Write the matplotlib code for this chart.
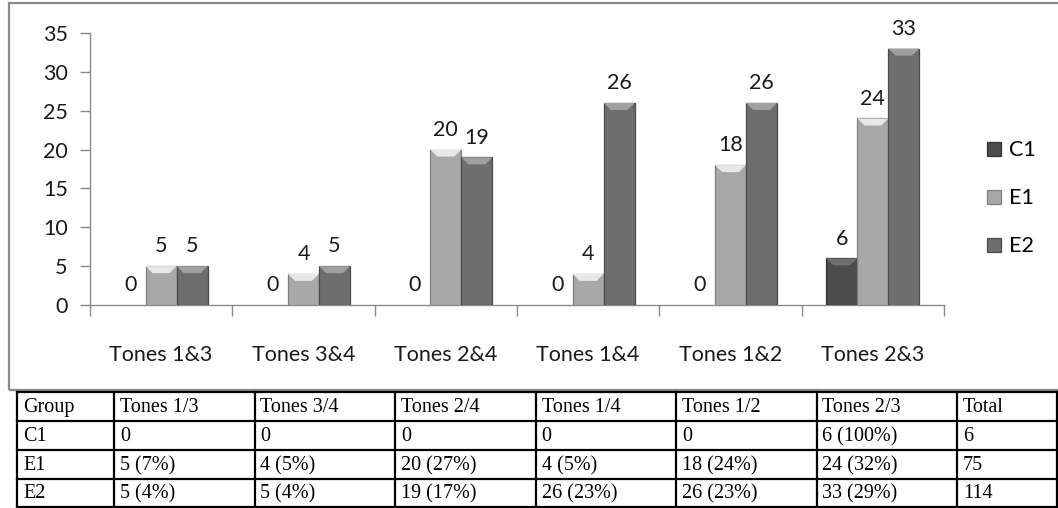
import numpy as np
import matplotlib.pyplot as plt
from matplotlib.patches import Rectangle, Polygon

# Количество ответов по парам тонов для каждой группы
categories = ['Tones 1&3', 'Tones 3&4', 'Tones 2&4', 'Tones 1&4', 'Tones 1&2', 'Tones 2&3']
groups = ['C1', 'E1', 'E2']
c1_values = [0, 0, 0, 0, 0, 6]
e1_values = [5, 4, 20, 4, 18, 24]
e2_values = [5, 5, 19, 26, 26, 33]
y_ticks = [0, 5, 10, 15, 20, 25, 30, 35]

# Таблица под графиком
table_header = ['Group', 'Tones 1/3', 'Tones 3/4', 'Tones 2/4', 'Tones 1/4', 'Tones 1/2', 'Tones 2/3', 'Total']
table_rows = [
    ['C1', '0', '0', '0', '0', '0', '6 (100%)', '6'],
    ['E1', '5 (7%)', '4 (5%)', '20 (27%)', '4 (5%)', '18 (24%)', '24 (32%)', '75'],
    ['E2', '5 (4%)', '5 (4%)', '19 (17%)', '26 (23%)', '26 (23%)', '33 (29%)', '114'],
]

bar_colors = ['#4c4c4c', '#a8a8a8', '#6e6e6e']
edge_colors = ['#333333', '#7f7f7f', '#4a4a4a']
top_colors = ['#707070', '#e8e8e8', '#a0a0a0']

W, H = 1058, 508
fig = plt.figure(figsize=(W / 100, H / 100), dpi=100)
fig.patch.set_facecolor('white')

def fx(px):
    return px / W

def fy(py):
    return 1 - py / H

# рамка области диаграммы
fig.patches.append(Rectangle((fx(9), fy(390)), fx(1070) - fx(9), fy(3) - fy(390),
                             transform=fig.transFigure, fill=False,
                             edgecolor='#8a8a8a', linewidth=1.6))

ax = fig.add_axes([fx(90), fy(305), fx(944) - fx(90), fy(33) - fy(305)])
ax.set_xlim(-0.5, len(categories) - 0.5)
ax.set_ylim(0, 35)

font = 'Lato'
fs = 15.5
bw = 0.218
x = np.arange(len(categories))
series = [c1_values, e1_values, e2_values]

for i, vals in enumerate(series):
    xs = x + (i - 1) * bw
    bars = ax.bar(xs, vals, width=bw, color=bar_colors[i], edgecolor=edge_colors[i],
                  linewidth=0.9, label=groups[i], zorder=3)
    for patch, xi, v in zip(bars.patches, xs, vals):
        if v > 0:
            # скошенная верхняя грань столбика
            dy = 0.9
            ax.add_patch(Polygon([(xi - bw / 2, v), (xi + bw / 2, v),
                                  (xi + bw / 2 - 0.05, v - dy), (xi - bw / 2 + 0.05, v - dy)],
                                 closed=True, facecolor=top_colors[i], edgecolor='none', zorder=4))
        else:
            patch.set_linewidth(0)
        ax.annotate(str(v), (xi, v), xytext=(0, 7), textcoords='offset points',
                    ha='center', va='bottom', fontsize=fs, family=font, color='#1a1a1a')

for s in ['top', 'right']:
    ax.spines[s].set_visible(False)
for s in ['left', 'bottom']:
    ax.spines[s].set_color('#8a8a8a')
    ax.spines[s].set_linewidth(1.0)

ax.set_yticks(y_ticks)
ax.tick_params(axis='y', length=7, width=1.0, color='#8a8a8a', pad=9,
               labelsize=fs, labelcolor='#1a1a1a')
ax.set_xticks(x)
ax.set_xticklabels(categories)
ax.set_xticks(np.arange(-0.5, len(categories), 1.0), minor=True)
ax.tick_params(axis='x', which='major', length=0, pad=29, labelsize=fs, labelcolor='#1a1a1a')
ax.tick_params(axis='x', which='minor', length=8, width=1.0, color='#8a8a8a')
for lbl in ax.get_xticklabels() + ax.get_yticklabels():
    lbl.set_family(font)

leg = ax.legend(loc='upper left', bbox_to_anchor=(fx(968), fy(121)),
                bbox_transform=fig.transFigure, frameon=False, prop={'family': font, 'size': fs},
                handlelength=0.65, handleheight=0.65, handletextpad=0.35, labelspacing=1.3)
for h in leg.legend_handles:
    h.set_linewidth(0.9)

# таблица
col_x = [17, 114] + [114 + 140.5 * k for k in range(1, 7)] + [1057]
row_y = [392, 421, 450, 479, 507]
lw = 1.6
for cx in col_x:
    fig.add_artist(plt.Line2D([fx(cx), fx(cx)], [fy(row_y[0]), fy(row_y[-1])],
                              transform=fig.transFigure, color='black', linewidth=lw))
for ry in row_y:
    fig.add_artist(plt.Line2D([fx(col_x[0]), fx(col_x[-1])], [fy(ry), fy(ry)],
                              transform=fig.transFigure, color='black', linewidth=lw))

all_rows = [table_header] + table_rows
for r, row in enumerate(all_rows):
    for c, txt in enumerate(row):
        fig.text(fx(col_x[c] + 6), fy((row_y[r] + row_y[r + 1]) / 2 + 1), txt,
                 ha='left', va='center', family='Liberation Serif', fontsize=14.5, color='black')

fig.savefig('out.png', dpi=100)
